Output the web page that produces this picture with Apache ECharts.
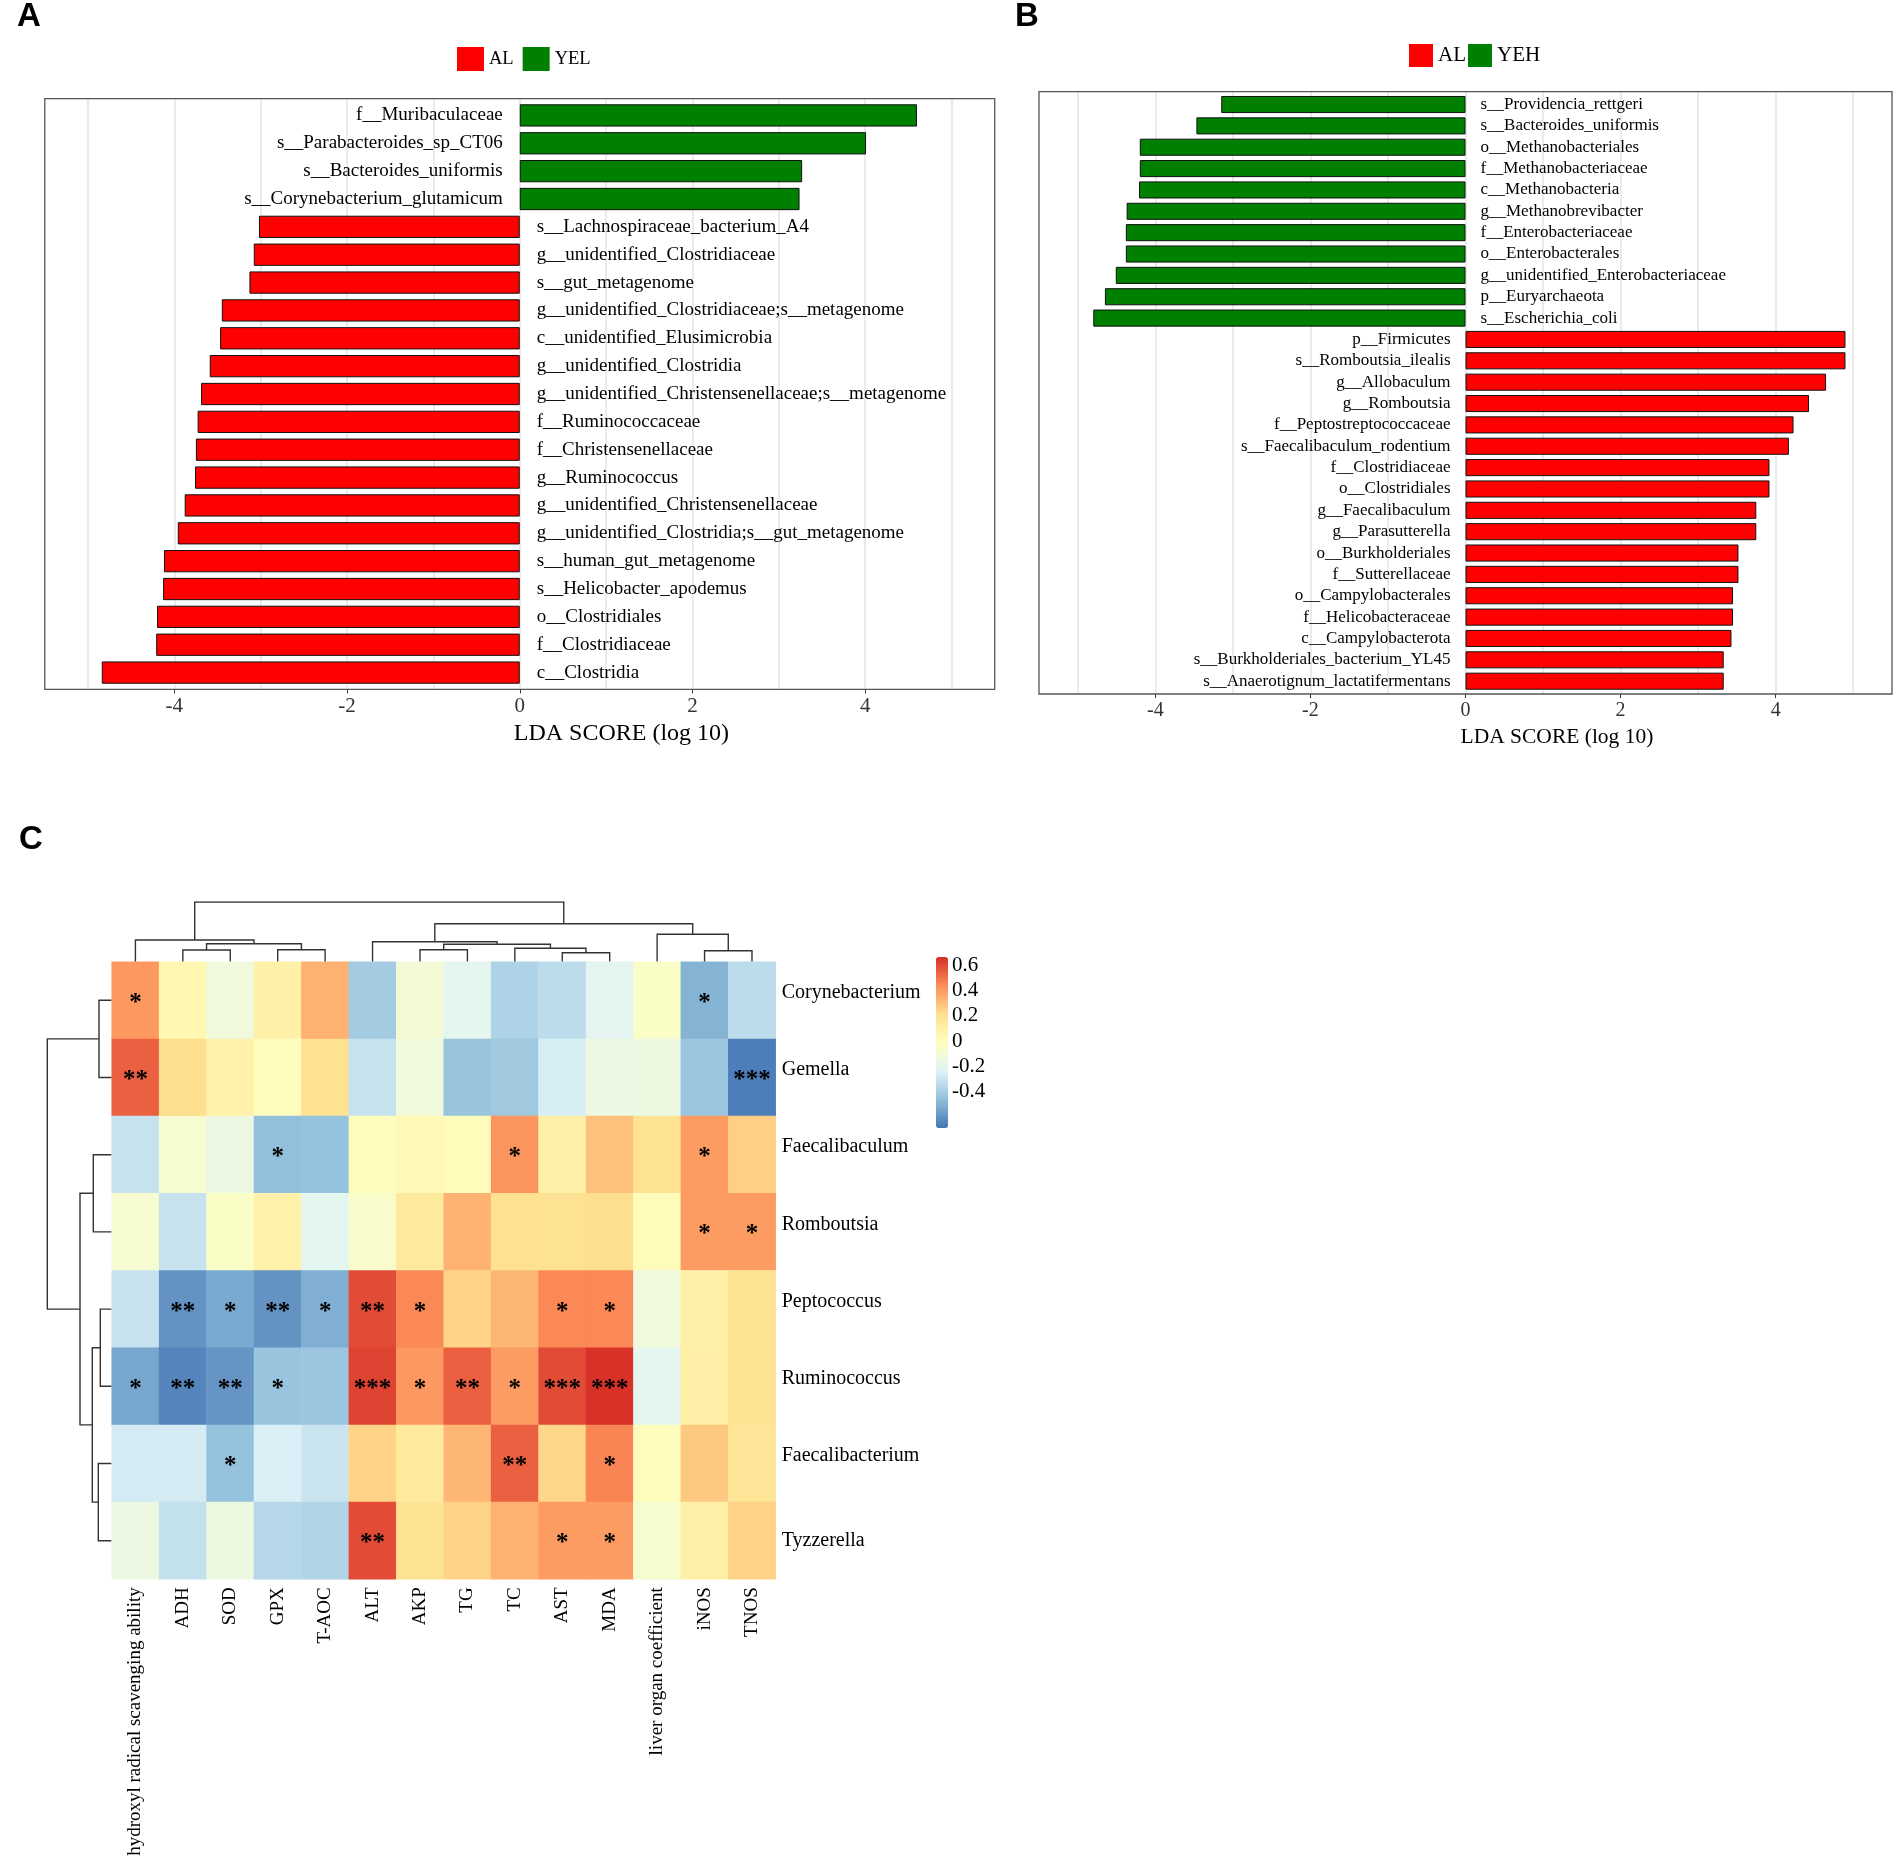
<!DOCTYPE html>
<html>
<head>
<meta charset="utf-8">
<script src="https://cdn.jsdelivr.net/npm/echarts@6/dist/echarts.min.js"></script>
<style>
html, body { margin: 0; padding: 0; background: #fff; }
#main { width: 1902px; height: 1867px; }
</style>
</head>
<body>
<div id="main"></div>
<script>
// panel A: LEfSe AL vs YEL
var aTaxa = ['f__Muribaculaceae', 's__Parabacteroides_sp_CT06', 's__Bacteroides_uniformis', 's__Corynebacterium_glutamicum',
  's__Lachnospiraceae_bacterium_A4', 'g__unidentified_Clostridiaceae', 's__gut_metagenome',
  'g__unidentified_Clostridiaceae;s__metagenome', 'c__unidentified_Elusimicrobia', 'g__unidentified_Clostridia',
  'g__unidentified_Christensenellaceae;s__metagenome', 'f__Ruminococcaceae', 'f__Christensenellaceae', 'g__Ruminococcus',
  'g__unidentified_Christensenellaceae', 'g__unidentified_Clostridia;s__gut_metagenome', 's__human_gut_metagenome',
  's__Helicobacter_apodemus', 'o__Clostridiales', 'f__Clostridiaceae', 'c__Clostridia'];
var aScore = [4.60, 4.01, 3.27, 3.24, -3.02, -3.08, -3.13, -3.45, -3.47, -3.59, -3.69, -3.73, -3.75, -3.76,
  -3.88, -3.96, -4.12, -4.13, -4.20, -4.21, -4.84];

// panel B: LEfSe AL vs YEH
var bTaxa = ['s__Providencia_rettgeri', 's__Bacteroides_uniformis', 'o__Methanobacteriales', 'f__Methanobacteriaceae',
  'c__Methanobacteria', 'g__Methanobrevibacter', 'f__Enterobacteriaceae', 'o__Enterobacterales',
  'g__unidentified_Enterobacteriaceae', 'p__Euryarchaeota', 's__Escherichia_coli', 'p__Firmicutes', 's__Romboutsia_ilealis',
  'g__Allobaculum', 'g__Romboutsia', 'f__Peptostreptococcaceae', 's__Faecalibaculum_rodentium', 'f__Clostridiaceae',
  'o__Clostridiales', 'g__Faecalibaculum', 'g__Parasutterella', 'o__Burkholderiales', 'f__Sutterellaceae',
  'o__Campylobacterales', 'f__Helicobacteraceae', 'c__Campylobacterota', 's__Burkholderiales_bacterium_YL45',
  's__Anaerotignum_lactatifermentans'];
var bScore = [-3.15, -3.47, -4.20, -4.20, -4.21, -4.37, -4.38, -4.38, -4.51, -4.65, -4.80, 4.90, 4.90, 4.65, 4.43,
  4.23, 4.17, 3.92, 3.92, 3.75, 3.75, 3.52, 3.52, 3.45, 3.45, 3.43, 3.33, 3.33];

var ldaTicks = [-4, -2, 0, 2, 4];

// panel C: correlation heatmap
var hmCols = ['hydroxyl radical scavenging ability', 'ADH', 'SOD', 'GPX', 'T-AOC', 'ALT', 'AKP', 'TG', 'TC', 'AST', 'MDA',
  'liver organ coefficient', 'iNOS', 'TNOS'];
var hmRows = ['Corynebacterium', 'Gemella', 'Faecalibaculum', 'Romboutsia', 'Peptococcus', 'Ruminococcus',
  'Faecalibacterium', 'Tyzzerella'];
var hmR = [
  [0.41, 0.05, -0.12, 0.10, 0.34, -0.41, -0.10, -0.20, -0.38, -0.34, -0.21, -0.04, -0.50, -0.34],
  [0.55, 0.22, 0.09, 0.00, 0.21, -0.31, -0.12, -0.44, -0.42, -0.26, -0.15, -0.14, -0.43, -0.66],
  [-0.31, -0.08, -0.15, -0.46, -0.45, 0.00, 0.03, 0.01, 0.42, 0.10, 0.30, 0.20, 0.40, 0.26],
  [-0.08, -0.31, -0.04, 0.09, -0.20, -0.06, 0.15, 0.34, 0.21, 0.20, 0.22, 0.01, 0.40, 0.40],
  [-0.31, -0.60, -0.53, -0.60, -0.51, 0.60, 0.45, 0.25, 0.33, 0.45, 0.45, -0.12, 0.10, 0.19],
  [-0.54, -0.64, -0.59, -0.44, -0.43, 0.62, 0.41, 0.55, 0.40, 0.60, 0.66, -0.20, 0.11, 0.20],
  [-0.27, -0.27, -0.45, -0.25, -0.30, 0.25, 0.15, 0.33, 0.55, 0.24, 0.46, 0.00, 0.28, 0.18],
  [-0.15, -0.32, -0.14, -0.36, -0.37, 0.60, 0.20, 0.25, 0.34, 0.40, 0.40, -0.07, 0.10, 0.25]
];
var hmStars = [
  ['*', '', '', '', '', '', '', '', '', '', '', '', '*', ''],
  ['**', '', '', '', '', '', '', '', '', '', '', '', '', '***'],
  ['', '', '', '*', '', '', '', '', '*', '', '', '', '*', ''],
  ['', '', '', '', '', '', '', '', '', '', '', '', '*', '*'],
  ['', '**', '*', '**', '*', '**', '*', '', '', '*', '*', '', '', ''],
  ['*', '**', '**', '*', '', '***', '*', '**', '*', '***', '***', '', '', ''],
  ['', '', '*', '', '', '', '', '', '**', '', '*', '', '', ''],
  ['', '', '', '', '', '**', '', '', '', '*', '*', '', '', '']
];
var rMin = -0.688, rMax = 0.666;
var rTicks = [-0.4, -0.2, 0, 0.2, 0.4, 0.6];
var rColors = ['#4575b4', '#91bfdb', '#e0f3f8', '#ffffbf', '#fee090', '#fc8d59', '#d73027'];

// hclust-style merges: [a, b, height]; negative = leaf (1-based), positive = earlier merge
var colTree = [[-2, -3, 11.7], [-4, -5, 12], [1, 2, 18], [-1, 3, 21.7], [-7, -8, 12], [-10, -11, 9], [-9, 6, 13.4],
  [5, 7, 17.4], [-6, 8, 20], [-13, -14, 11], [-12, 10, 27.4], [9, 11, 38], [4, 12, 59.7]];
var rowTree = [[-1, -2, 12.7], [-3, -4, 18.4], [-5, -6, 11.4], [-7, -8, 13.4], [3, 4, 19.4], [2, 5, 31.7], [1, 6, 64.4]];

var SERIF = 'Liberation Serif, Times New Roman, serif';
var SANS = 'Liberation Sans, Arial, sans-serif';

var boxA = { x: 44.8, y: 98.7, w: 949.9, h: 590.6 };
var boxB = { x: 1039, y: 91.7, w: 853, h: 602.3 };
var hm = { x: 111.7, y: 961.7, w: 664, h: 617.6 };
var colTreeH = 59.7, rowTreeW = 64.4;

function padOf(box, n) { return box.h / (n + 0.2) * 0.1; }
function zeroOf(box) { return box.x + (0 - (-5.5)) / 11 * box.w; }

function dendro(tree) {
  var pos = [], hgt = [], out = [];
  function node(k) { return k < 0 ? [-k - 0.5, 0] : [pos[k - 1], hgt[k - 1]]; }
  tree.forEach(function (m, i) {
    var a = node(m[0]), b = node(m[1]);
    out.push([[a[0], a[1]], [a[0], m[2]], [b[0], m[2]], [b[0], b[1]]]);
    pos[i] = (a[0] + b[0]) / 2;
    hgt[i] = m[2];
  });
  return out;
}

function ldaGridOf(box, n) {
  var p = padOf(box, n);
  return { left: box.x, top: box.y + p, width: box.w, height: box.h - 2 * p };
}
// background grid lines: a grid spanning -5..5 inside the -5.5..5.5 panel
function lineGridOf(box) {
  return { left: box.x + box.w / 22, top: box.y, width: box.w * 10 / 11, height: box.h };
}

function ldaX(idx, box, n, fs) {
  return {
    type: 'value', gridIndex: idx, min: -5.5, max: 5.5, offset: padOf(box, n),
    axisLine: { show: false }, splitLine: { show: false },
    axisTick: { show: true, customValues: ldaTicks, length: 4, lineStyle: { color: '#333' } },
    axisLabel: { customValues: ldaTicks, fontFamily: SERIF, fontSize: fs, color: '#333', margin: 7 }
  };
}

function ldaY(idx, taxa) {
  return {
    type: 'category', gridIndex: idx, data: taxa, inverse: true,
    axisLine: { show: false }, axisTick: { show: false }, axisLabel: { show: false }, splitLine: { show: false }
  };
}

function lineX(idx) {
  return {
    type: 'value', gridIndex: idx, min: -5, max: 5, interval: 1,
    axisLine: { show: false }, axisTick: { show: false }, axisLabel: { show: false },
    splitLine: { show: true, lineStyle: { color: '#ebebeb', width: 2 } }
  };
}

function bars(name, score, sign, color, idx, fs, dist) {
  return {
    name: name, type: 'bar', xAxisIndex: idx, yAxisIndex: idx, z: 3,
    data: score.map(function (v) { return v * sign > 0 ? v : '-'; }),
    barWidth: '80%', barGap: '-100%',
    itemStyle: { color: color, borderColor: '#111', borderWidth: 1 },
    label: {
      show: true, position: sign > 0 ? 'left' : 'right', distance: dist, formatter: '{b}',
      fontFamily: SERIF, fontSize: fs, color: '#000'
    }
  };
}

var hmData = [];
hmR.forEach(function (row, r) {
  row.forEach(function (v, c) { hmData.push([c, r, v]); });
});

var treeLine = { color: '#333', width: 1.4, opacity: 1 };
var rowLabelRich = {
  hi: { fontFamily: SERIF, fontSize: 20, color: '#000', padding: [0, 0, 15, 0] },
  lo: { fontFamily: SERIF, fontSize: 20, color: '#000' }
};

var chart = echarts.init(document.getElementById('main'));
chart.setOption({
  animation: false,
  backgroundColor: '#fff',
  legend: [
    {
      data: ['AL', 'YEL'], left: 457, top: 47, itemWidth: 27, itemHeight: 24, itemGap: 9, icon: 'rect', padding: 0,
      selectedMode: false, itemStyle: { borderWidth: 0 }, textStyle: { fontFamily: SERIF, fontSize: 18.5, color: '#000' }
    },
    {
      data: ['AL', 'YEH'], left: 1409, top: 44, itemWidth: 24, itemHeight: 23, itemGap: 2, icon: 'rect', padding: 0,
      selectedMode: false, itemStyle: { borderWidth: 0 }, textStyle: { fontFamily: SERIF, fontSize: 21, color: '#000' }
    }
  ],
  grid: [
    ldaGridOf(boxA, aTaxa.length),
    ldaGridOf(boxB, bTaxa.length),
    { left: hm.x, top: hm.y, width: hm.w, height: hm.h },
    { left: hm.x, top: hm.y - colTreeH, width: hm.w, height: colTreeH },
    { left: hm.x - rowTreeW, top: hm.y, width: rowTreeW, height: hm.h },
    { left: 936, top: 957, width: 12, height: 171 },
    lineGridOf(boxA),
    lineGridOf(boxB)
  ],
  xAxis: [
    ldaX(0, boxA, aTaxa.length, 21),
    ldaX(1, boxB, bTaxa.length, 20),
    {
      type: 'category', gridIndex: 2, data: hmCols, position: 'bottom',
      axisLine: { show: false }, axisTick: { show: false }, splitLine: { show: false },
      axisLabel: { interval: 0, rotate: 90, margin: 8, fontFamily: SERIF, fontSize: 19, color: '#000' }
    },
    { type: 'value', gridIndex: 3, min: 0, max: hmCols.length, show: false },
    { type: 'value', gridIndex: 4, min: 0, max: rowTreeW, inverse: true, show: false },
    { type: 'value', gridIndex: 5, min: 0, max: 1, show: false },
    lineX(6),
    lineX(7)
  ],
  yAxis: [
    ldaY(0, aTaxa),
    ldaY(1, bTaxa),
    {
      type: 'category', gridIndex: 2, data: hmRows, inverse: true, position: 'right',
      axisLine: { show: false }, axisTick: { show: false }, splitLine: { show: false },
      axisLabel: {
        interval: 0, margin: 6, fontFamily: SERIF, fontSize: 20, color: '#000', rich: rowLabelRich,
        formatter: function (v, i) { return i === hmRows.length - 1 ? '{lo|' + v + '}' : '{hi|' + v + '}'; }
      }
    },
    { type: 'value', gridIndex: 3, min: 0, max: colTreeH, show: false },
    { type: 'value', gridIndex: 4, min: 0, max: hmRows.length, inverse: true, show: false },
    {
      type: 'value', gridIndex: 5, min: rMin, max: rMax, position: 'right',
      axisLine: { show: false }, axisTick: { show: false }, splitLine: { show: false },
      axisLabel: { customValues: rTicks, margin: 4, fontFamily: SERIF, fontSize: 21, color: '#000' }
    },
    { type: 'value', gridIndex: 6, min: 0, max: 1, show: false },
    { type: 'value', gridIndex: 7, min: 0, max: 1, show: false }
  ],
  visualMap: {
    type: 'continuous', seriesIndex: 6, dimension: 2, min: rMin, max: rMax, calculable: false,
    orient: 'vertical', left: 936, top: 957, itemWidth: 12, itemHeight: 171, padding: 0,
    text: null, inRange: { color: rColors }
  },
  series: [
    bars('AL', aScore, -1, '#ff0000', 0, 19, 17),
    bars('YEL', aScore, 1, '#008000', 0, 19, 17),
    bars('AL', bScore, 1, '#ff0000', 1, 17, 15),
    bars('YEH', bScore, -1, '#008000', 1, 17, 15),
    {
      type: 'lines', coordinateSystem: 'cartesian2d', xAxisIndex: 3, yAxisIndex: 3, polyline: true, silent: true,
      lineStyle: treeLine,
      data: dendro(colTree).map(function (c) { return { coords: c }; })
    },
    {
      type: 'lines', coordinateSystem: 'cartesian2d', xAxisIndex: 4, yAxisIndex: 4, polyline: true, silent: true,
      lineStyle: treeLine,
      data: dendro(rowTree).map(function (c) {
        return { coords: c.map(function (p) { return [p[1], p[0]]; }) };
      })
    },
    {
      type: 'heatmap', xAxisIndex: 2, yAxisIndex: 2, data: hmData,
      emphasis: { disabled: true },
      label: {
        show: true, offset: [0, 3], fontFamily: SERIF, fontWeight: 'bold', fontSize: 25, color: '#000',
        formatter: function (p) { return hmStars[p.data[1]][p.data[0]]; }
      }
    }
  ],
  graphic: [
    { type: 'text', left: 17, top: 0, style: { text: 'A', fontFamily: SANS, fontWeight: 'bold', fontSize: 33, fill: '#000' } },
    { type: 'text', left: 1015, top: 0, style: { text: 'B', fontFamily: SANS, fontWeight: 'bold', fontSize: 33, fill: '#000' } },
    { type: 'text', left: 19, top: 823, style: { text: 'C', fontFamily: SANS, fontWeight: 'bold', fontSize: 33, fill: '#000' } },
    {
      type: 'rect', z: 100, shape: { x: boxA.x, y: boxA.y, width: boxA.w, height: boxA.h },
      style: { fill: 'none', stroke: '#555', lineWidth: 1.3 }
    },
    {
      type: 'rect', z: 100, shape: { x: boxB.x, y: boxB.y, width: boxB.w, height: boxB.h },
      style: { fill: 'none', stroke: '#555', lineWidth: 1.3 }
    },
    {
      type: 'text', left: zeroOf(boxA) - 6, top: boxA.y + boxA.h + 32,
      style: { text: 'LDA SCORE (log 10)', fontFamily: SERIF, fontSize: 24, fill: '#000' }
    },
    {
      type: 'text', left: zeroOf(boxB) - 5, top: boxB.y + boxB.h + 32,
      style: { text: 'LDA SCORE (log 10)', fontFamily: SERIF, fontSize: 21.5, fill: '#000' }
    }
  ]
});
</script>
</body>
</html>
